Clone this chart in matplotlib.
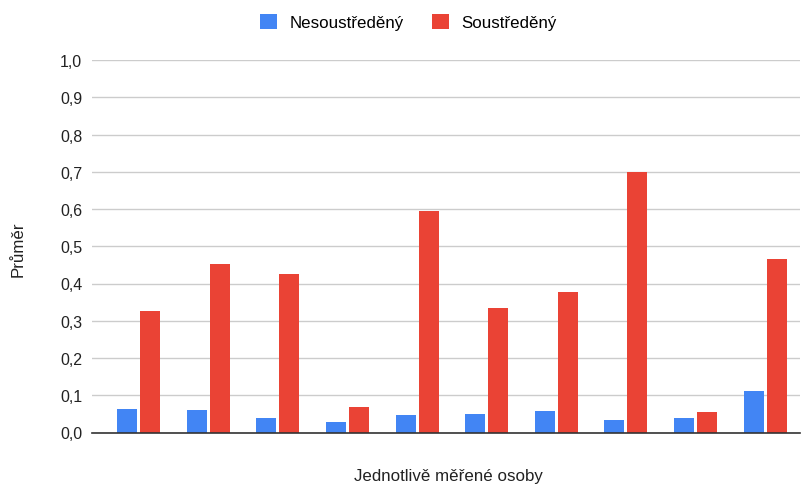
import matplotlib
matplotlib.use("Agg")
import matplotlib.pyplot as plt
import numpy as np

categories = [str(i) for i in range(1, 11)]
nesoustredeny = [0.064, 0.061, 0.038, 0.027, 0.046, 0.050, 0.057, 0.034, 0.038, 0.111]
soustredeny = [0.327, 0.453, 0.426, 0.068, 0.594, 0.334, 0.377, 0.700, 0.054, 0.465]
y_ticks = [0.0, 0.1, 0.2, 0.3, 0.4, 0.5, 0.6, 0.7, 0.8, 0.9, 1.0]
series_names = ["Nesoustředěný", "Soustředěný"]

plt.rcParams['font.family'] = ['Liberation Sans', 'DejaVu Sans']

W, H = 801, 489
fig = plt.figure(figsize=(W / 100, H / 100), dpi=100)
ax = fig.add_axes([92 / W, (H - 433.5) / H, (800 - 92) / W, (433.5 - 61) / H])

x = np.arange(len(categories))
bw = 0.287
off = 0.165
b1 = ax.bar(x - off, nesoustredeny, bw, color="#4285F4", label=series_names[0], zorder=3)
b2 = ax.bar(x + off, soustredeny, bw, color="#EA4335", label=series_names[1], zorder=3)

ax.set_xlim(-0.67, 9.50)
ax.set_ylim(0, 1.0)
ax.set_yticks(y_ticks)
ax.set_yticklabels([f"{v:.1f}".replace(".", ",") for v in y_ticks], fontsize=11.5, color="#222222")
ax.set_xticks([])
ax.tick_params(axis="y", length=0, pad=7)
ax.grid(axis="y", color="#cccccc", linewidth=1, zorder=0)
for s in ["top", "right", "left"]:
    ax.spines[s].set_visible(False)
ax.spines["bottom"].set_color("#333333")
ax.spines["bottom"].set_linewidth(1.2)
ax.spines["bottom"].set_zorder(4)

fig.text(18 / W, 1 - 249 / H, "Průměr", rotation=90, ha="center", va="center", fontsize=12.2, color="#222222")
fig.text(448 / W, 1 - 477 / H, "Jednotlivě měřené osoby", ha="center", va="center", fontsize=12.2, color="#222222")

fig.legend(handles=[b1, b2], labels=series_names, loc="center", bbox_to_anchor=(408 / W, 1 - 23 / H),
           ncol=2, frameon=False, fontsize=12.2, handlelength=1.0, handleheight=1.0,
           columnspacing=1.67, handletextpad=0.73)

fig.savefig("out.png", dpi=100)
